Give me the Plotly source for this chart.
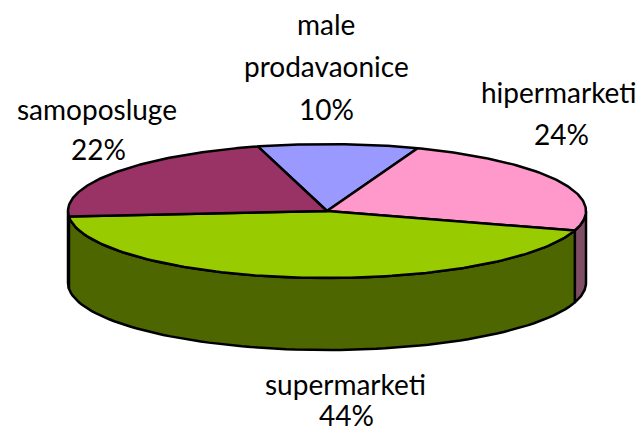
import numpy as np
import plotly.graph_objects as go

categories = ["male prodavaonice", "hipermarketi", "supermarketi", "samoposluge"]
values = [10, 24, 44, 22]
label_lines = ["male", "prodavaonice", "10%", "hipermarketi", "24%", "supermarketi", "44%", "samoposluge", "22%"]
label_x = [326, 326, 326, 559, 561, 345, 346, 97, 98]
label_y = [24, 66, 109, 92, 134, 384, 415, 109, 149]
top_colors = ["#9999ff", "#ff99cc", "#99cc00", "#993366"]
wall_colors = ["#4d4d80", "#804d66", "#4d6600", "#4d1a33"]

W, H = 644, 434
CX, CY, RX, RY, DEPTH = 327, 211, 259, 67, 72
START = -15.5

def pt(a_deg, dy=0):
    a = np.radians(a_deg)
    return CX + RX * np.sin(a), CY - RY * np.cos(a) + dy

fig = go.Figure()
edges = START + np.cumsum([0] + values) * 3.6
LINE = dict(color="black", width=2.5)

# side walls: visible front half only (angles 90..270)
for i in range(len(values)):
    a0, a1 = max(edges[i], 90), min(edges[i + 1], 270)
    if a1 <= a0:
        continue
    th = np.linspace(a0, a1, 80)
    xt, yt = pt(th)
    xb, yb = pt(th, DEPTH)
    fig.add_trace(go.Scatter(
        x=np.r_[xt, xb[::-1], xt[0]], y=np.r_[yt, yb[::-1], yt[0]],
        mode="lines", fill="toself", fillcolor=wall_colors[i], line=LINE, hoverinfo="skip"))

# top faces
for i in range(len(values)):
    th = np.linspace(edges[i], edges[i + 1], 120)
    xt, yt = pt(th)
    fig.add_trace(go.Scatter(
        x=np.r_[CX, xt, CX], y=np.r_[CY, yt, CY],
        mode="lines", fill="toself", fillcolor=top_colors[i], line=LINE,
        name=categories[i], hoverinfo="skip"))

for t, x, y in zip(label_lines, label_x, label_y):
    fig.add_annotation(x=x, y=y, text=t, showarrow=False, xanchor="center", yanchor="middle",
                       font=dict(family="Lato", size=28, color="black"), align="center")

fig.update_layout(width=W, height=H, margin=dict(l=0, r=0, t=0, b=0), showlegend=False,
                  paper_bgcolor="white", plot_bgcolor="white",
                  xaxis=dict(range=[0, W], visible=False, fixedrange=True),
                  yaxis=dict(range=[H, 0], visible=False, fixedrange=True))
fig.write_html("out.html", config={"displayModeBar": False},
               post_script="document.body.style.margin='0';document.documentElement.style.overflow='hidden';")
